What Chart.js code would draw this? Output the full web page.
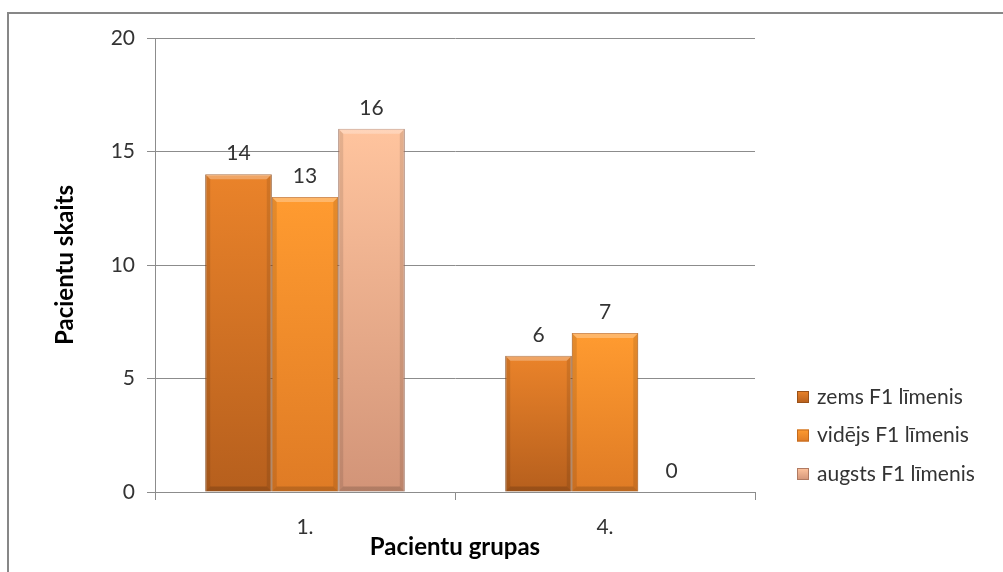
<!DOCTYPE html>
<html>
<head>
<meta charset="utf-8">
<script src="https://cdn.jsdelivr.net/npm/chart.js@4.4.1/dist/chart.umd.min.js"></script>
<style>
  html, body { margin: 0; padding: 0; background: #fff; overflow: hidden; }
  #frame {
    position: absolute; left: 7px; top: 12px; width: 1020px; height: 600px;
    border: 2px solid #878787; box-sizing: border-box;
  }
  #wrap { position: absolute; left: 0; top: 0; width: 1003px; height: 572px; }
</style>
</head>
<body>
<div id="frame"></div>
<div id="wrap"><canvas id="chart"></canvas></div>
<script>
// data
let groups = ["1.", "4."];
let seriesNames = ["zems F1 līmenis", "vidējs F1 līmenis", "augsts F1 līmenis"];
let zems = [14, 6];
let videjs = [13, 7];
let augsts = [16, 0];
let yTicks = [0, 5, 10, 15, 20];

let fontFamily = "Lato, 'Open Sans', sans-serif";
let textColor = "#333333";
let lineColor = "#8c8c8c";

// top colour, bottom colour, outline
let palette = [
  ["#ea832a", "#b65f1d", "#9a5118"],
  ["#ff9b30", "#df7b25", "#c46a1e"],
  ["#ffc49e", "#d29478", "#b07a62"],
];

function barFill(idx) {
  return function (ctx) {
    let chart = ctx.chart;
    if (!chart.chartArea || ctx.parsed === undefined) return palette[idx][0];
    let y = chart.scales.y;
    let top = y.getPixelForValue(ctx.parsed.y);
    let base = y.getPixelForValue(0);
    if (base - top < 1) return palette[idx][0];
    let g = chart.ctx.createLinearGradient(0, top, 0, base);
    g.addColorStop(0, palette[idx][0]);
    g.addColorStop(1, palette[idx][1]);
    return g;
  };
}

// little bevel so the bars look like the office ones
let bevelPlugin = {
  id: "bevel",
  afterDatasetsDraw(chart) {
    let ctx = chart.ctx;
    chart.data.datasets.forEach((ds, i) => {
      let meta = chart.getDatasetMeta(i);
      meta.data.forEach((bar) => {
        let h = bar.base - bar.y;
        if (h < 6) return;
        let l = bar.x - bar.width / 2;
        let r = bar.x + bar.width / 2;
        let t = bar.y;
        let b = bar.base;
        let e = 5;
        ctx.save();
        ctx.fillStyle = "rgba(255,255,255,0.28)";
        ctx.beginPath();
        ctx.moveTo(l, t); ctx.lineTo(r, t); ctx.lineTo(r - e, t + e); ctx.lineTo(l + e, t + e);
        ctx.closePath(); ctx.fill();
        ctx.fillStyle = "rgba(0,0,0,0.10)";
        ctx.beginPath();
        ctx.moveTo(l, t); ctx.lineTo(l + e, t + e); ctx.lineTo(l + e, b - e); ctx.lineTo(l, b);
        ctx.closePath(); ctx.fill();
        ctx.beginPath();
        ctx.moveTo(r, t); ctx.lineTo(r - e, t + e); ctx.lineTo(r - e, b - e); ctx.lineTo(r, b);
        ctx.closePath(); ctx.fill();
        ctx.fillStyle = "rgba(0,0,0,0.16)";
        ctx.beginPath();
        ctx.moveTo(l, b); ctx.lineTo(l + e, b - e); ctx.lineTo(r - e, b - e); ctx.lineTo(r, b);
        ctx.closePath(); ctx.fill();
        ctx.restore();
      });
    });
  },
};

// value labels above every bar
let valuePlugin = {
  id: "values",
  afterDatasetsDraw(chart) {
    let ctx = chart.ctx;
    ctx.save();
    ctx.font = "21px " + fontFamily;
    ctx.fillStyle = textColor;
    ctx.textAlign = "center";
    ctx.textBaseline = "middle";
    chart.data.datasets.forEach((ds, i) => {
      chart.getDatasetMeta(i).data.forEach((bar, j) => {
        ctx.fillText(String(ds.data[j]), bar.x, bar.y - 21);
      });
    });
    ctx.restore();
  },
};

// legend on the right, drawn by hand
let legendPlugin = {
  id: "sideLegend",
  afterDraw(chart) {
    let ctx = chart.ctx;
    let x = 797;
    let y0 = 397;
    let step = 38.5;
    ctx.save();
    ctx.font = "21px " + fontFamily;
    ctx.textBaseline = "middle";
    ctx.textAlign = "left";
    chart.data.datasets.forEach((ds, i) => {
      let cy = y0 + i * step;
      let g = ctx.createLinearGradient(0, cy - 6, 0, cy + 6);
      g.addColorStop(0, palette[i][0]);
      g.addColorStop(1, palette[i][1]);
      ctx.fillStyle = g;
      ctx.fillRect(x, cy - 6, 12, 12);
      ctx.strokeStyle = palette[i][2];
      ctx.lineWidth = 1;
      ctx.strokeRect(x + 0.5, cy - 5.5, 11, 11);
      ctx.fillStyle = textColor;
      ctx.fillText(ds.label, x + 20, cy);
    });
    ctx.restore();
  },
};

let datasets = [zems, videjs, augsts].map((vals, i) => ({
  label: seriesNames[i],
  data: vals,
  backgroundColor: barFill(i),
  borderColor: palette[i][2],
  borderWidth: 1,
  categoryPercentage: 0.665,
  barPercentage: 1,
}));

let chart = new Chart(document.getElementById("chart").getContext("2d"), {
  type: "bar",
  data: { labels: groups, datasets: datasets },
  plugins: [bevelPlugin, valuePlugin, legendPlugin],
  options: {
    responsive: true,
    maintainAspectRatio: false,
    animation: false,
    layout: { padding: { top: 38, right: 248, bottom: 0, left: 0 } },
    plugins: {
      legend: { display: false },
      tooltip: { enabled: false },
    },
    scales: {
      x: {
        ticks: {
          color: textColor,
          padding: 15,
          font: { family: fontFamily, size: 21 },
        },
        grid: {
          drawOnChartArea: false,
          drawTicks: true,
          tickLength: 8,
          color: lineColor,
          offset: true,
        },
        border: { display: true, color: lineColor },
        title: {
          display: true,
          text: "Pacientu grupas",
          color: "#000",
          font: { family: fontFamily, size: 24, weight: "bold" },
          padding: { top: 0, bottom: 10 },
        },
        afterFit(scale) {
          scale.height = 80;
        },
      },
      y: {
        min: 0,
        max: 20,
        afterBuildTicks(scale) {
          scale.ticks = yTicks.map((v) => ({ value: v }));
        },
        ticks: {
          color: textColor,
          padding: 12,
          font: { family: fontFamily, size: 21 },
        },
        grid: { color: lineColor, tickLength: 8, lineWidth: 1 },
        border: { display: true, color: lineColor },
        title: {
          display: true,
          text: "Pacientu skaits",
          color: "#000",
          font: { family: fontFamily, size: 24, weight: "bold" },
          padding: { top: 51, bottom: 0 },
        },
        afterFit(scale) {
          scale.width = 155;
        },
      },
    },
  },
});
</script>
</body>
</html>
